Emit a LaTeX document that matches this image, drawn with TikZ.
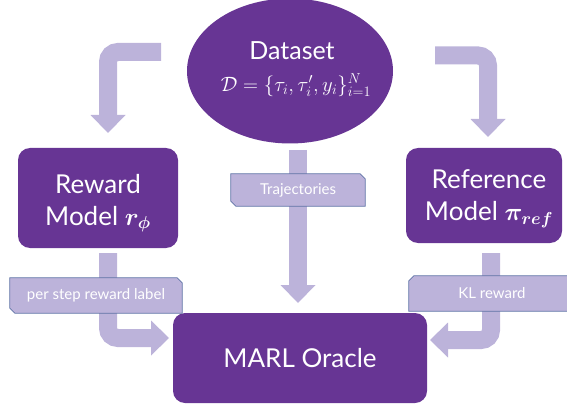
\documentclass[tikz,border=0pt]{standalone}
\usepackage{amsmath}
\usepackage{fontspec}
\setmainfont{Lato}
\usetikzlibrary{arrows.meta,calc,shapes.geometric}
\definecolor{dp}{RGB}{103,53,148}
\definecolor{lav}{RGB}{188,179,218}
\definecolor{lbord}{RGB}{95,115,165}
\begin{document}
\begin{tikzpicture}[x=1pt,y=-1pt,
  box/.style={fill=dp, rounded corners=12pt, inner sep=0pt},
  wtext/.style={text=white, inner sep=0pt},
  fat/.style={draw=lav, line width=18pt, rounded corners=10pt},
  fathead/.style={-{Triangle[length=18pt,width=35pt,line width=0pt]}},
  lab/.style={fill=lav, draw=lbord, line width=0.7pt},
  labtext/.style={text=white, inner sep=0pt, font=\fontsize{15}{17}\selectfont}]
\useasboundingbox (0,0) rectangle (567,406);

% main shapes
\node[ellipse, fill=dp, minimum width=206pt, minimum height=145pt, inner sep=0pt] (ds) at (290,71) {};
\node[box, minimum width=160pt, minimum height=100pt] (rm) at (98,198) {};
\node[box, minimum width=156pt, minimum height=95pt] (ref) at (484,195.5) {};
\node[box, minimum width=254pt, minimum height=90pt] (marl) at (300,358) {};

% texts
\node[wtext, font=\fontsize{25}{28}\selectfont] (dst) at (292,51) {Dataset};
\node[wtext, font=\fontsize{22}{24}\selectfont] (dsf) at (296,85) {$\mathcal{D}=\{\tau_i,\tau_i',y_i\}_{i=1}^{N}$};
\node[wtext, font=\fontsize{26}{32}\selectfont, align=center] (rmt) at (98,203) {Reward\\Model $\boldsymbol{r_{\phi}}$};
\node[wtext, font=\fontsize{26}{32}\selectfont, align=center] (reft) at (489,199) {Reference\\Model $\boldsymbol{\pi_{ref}}$};
\node[wtext, font=\fontsize{26}{30}\selectfont] (marlt) at (300,358) {MARL Oracle};

% fat arrows
\coordinate (a1s) at (161,52);
\coordinate (a1e) at (108,133);
\coordinate (a2s) at (435,55.5);
\coordinate (a2e) at (488,137);
\coordinate (a3s) at (298,150);
\coordinate (a3e) at (298,303);
\coordinate (a4s) at (108,253);
\coordinate (a4e) at (169,338);
\coordinate (a5s) at (491,253);
\coordinate (a5e) at (430,340);
\draw[fat, fathead] (a1s) -| (a1e);
\draw[fat, fathead] (a2s) -| (a2e);
\draw[fat, fathead] (a3s) -- (a3e);
\draw[fat, fathead] (a4s) |- (a4e);
\draw[fat, fathead] (a5s) |- (a5e);

% labels
\node[minimum width=134pt, minimum height=32pt, inner sep=0pt] (lt) at (298,190) {};
\node[minimum width=172pt, minimum height=35pt, inner sep=0pt] (lr) at (96,295.5) {};
\node[minimum width=166pt, minimum height=35pt, inner sep=0pt] (lk) at (492,293.5) {};
\path[lab] (lt.north west) -- ($(lt.north east)+(-5,0)$) -- ($(lt.north east)+(0,5)$) -- (lt.south east) -- ($(lt.south west)+(5,0)$) -- ($(lt.south west)+(0,-5)$) -- cycle;
\path[lab] (lr.north west) -- ($(lr.north east)+(-5,0)$) -- ($(lr.north east)+(0,5)$) -- (lr.south east) -- ($(lr.south west)+(5,0)$) -- ($(lr.south west)+(0,-5)$) -- cycle;
\path[lab] ($(lk.north west)+(5,0)$) -- (lk.north east) -- ($(lk.south east)+(0,-5)$) -- ($(lk.south east)+(-5,0)$) -- (lk.south west) -- ($(lk.north west)+(0,5)$) -- cycle;
\node[labtext] (ltt) at (lt) {Trajectories};
\node[labtext] (lrt) at (lr) {per step reward label};
\node[labtext] (lkt) at (lk) {KL reward};
\end{tikzpicture}
\end{document}
